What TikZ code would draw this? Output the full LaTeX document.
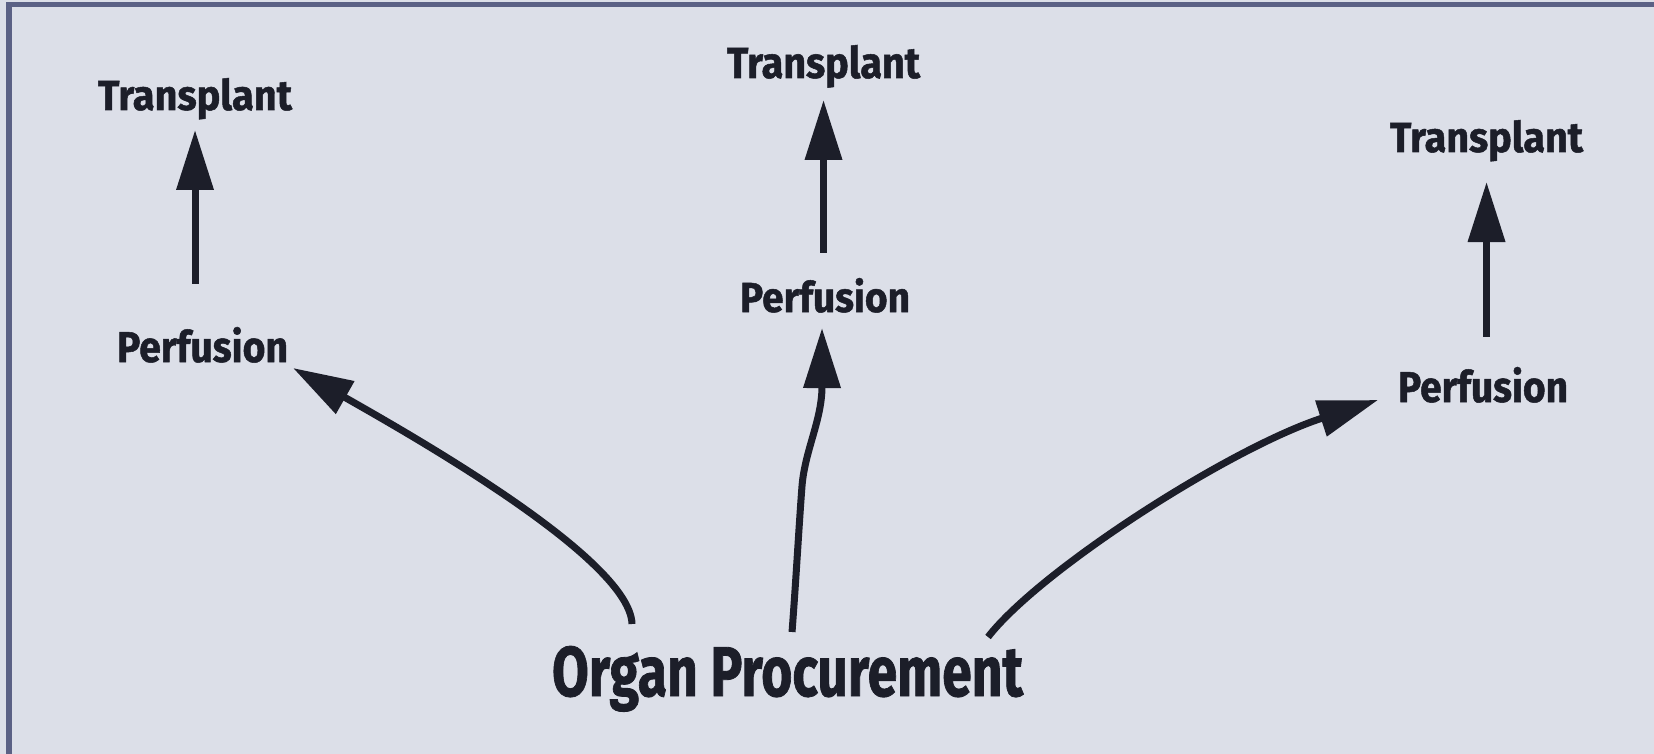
\documentclass[tikz,border=0pt]{standalone}
\usepackage{fontspec}
\setmainfont{Fira Sans}[BoldFeatures={FakeBold=1.2}]
\usepackage{graphicx}
\usetikzlibrary{arrows.meta}
\definecolor{bg}{HTML}{DCDFE8}
\definecolor{frame}{HTML}{5B6185}
\definecolor{ink}{HTML}{1C1E29}
\tikzset{
  lbl/.style={inner sep=0pt, outer sep=0pt, text depth=0pt, text=ink, font=\bfseries, anchor=base west},
  arr/.style={draw=ink, line width=7pt, -{Triangle[length=60pt,width=36pt]}}
}
\begin{document}
\begin{tikzpicture}[x=1pt,y=-1pt]
\useasboundingbox (0,0) rectangle (1654,754);
\clip (0,0) rectangle (1654,754);
\fill[bg] (-20,-20) rectangle (1700,800);
\draw[frame, line width=5.5pt] (9,800) -- (9,4.7) -- (1660,4.7);

% labels
\node[lbl] (tl) at (98,110)  {\resizebox{194pt}{32pt}{Transplant}};
\node[lbl] (tm) at (727,78)  {\resizebox{193pt}{33pt}{Transplant}};
\node[lbl] (tr) at (1390,152) {\resizebox{193pt}{32pt}{Transplant}};
\node[lbl] (pl) at (117,362) {\resizebox{171pt}{35pt}{Perfusion}};
\node[lbl] (pm) at (740,312) {\resizebox{170pt}{34pt}{Perfusion}};
\node[lbl] (pr) at (1398,402) {\resizebox{170pt}{35pt}{Perfusion}};
\node[lbl] (op) at (552,696) {\resizebox{471pt}{50pt}{Organ Procurement}};

% vertical arrows Perfusion -> Transplant
\draw[arr, shorten <=43pt, shorten >=20pt] (pl.north -| tl.south) -- (tl.south);
\draw[arr, shorten <=25pt, shorten >=22pt] (pm.north -| tm.south) -- (tm.south);
\draw[arr, shorten <=30pt, shorten >=30pt] (pr.north -| tr.south) -- (tr.south);

% curved arrows Organ Procurement -> Perfusion
\draw[arr] ([xshift=-155.5pt,yshift=22pt]op.north) .. controls (630,560) and (420,440) .. ([xshift=5pt,yshift=-6pt]pl.south east);
\draw[arr] ([xshift=4.5pt,yshift=14pt]op.north) .. controls (796,580) and (799,525) .. (802,486) .. controls (805,450) and (822,420) .. ([xshift=-3pt,yshift=-16pt]pm.south);
\draw[arr] ([xshift=200.5pt,yshift=9pt]op.north) .. controls (1040,570) and (1230,448) .. ([xshift=-20pt,yshift=2pt]pr.south west);
\end{tikzpicture}
\end{document}
